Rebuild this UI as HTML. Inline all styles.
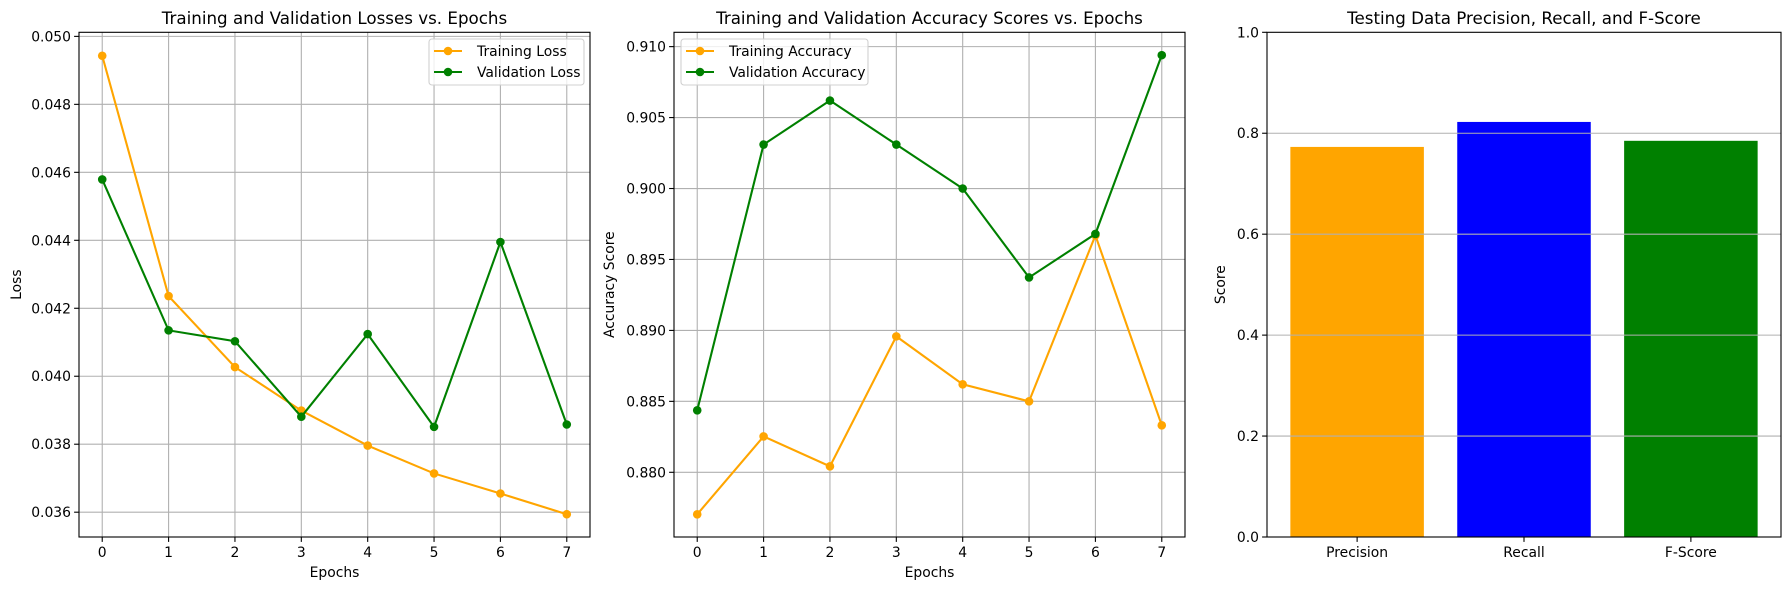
<!DOCTYPE html>
<html><head><meta charset="utf-8"><style>
html,body{margin:0;padding:0;background:#fff;}
svg{display:block;font-family:"DejaVu Sans","Liberation Sans",sans-serif;}
</style></head><body>
<svg id="fig" width="1789" height="590" viewBox="0 0 1789 590" xmlns="http://www.w3.org/2000/svg"></svg>
<script>
const epochs = [0,1,2,3,4,5,6,7];
const trainLoss = [0.04943,0.04236,0.04027,0.03899,0.03796,0.03714,0.03655,0.03594];
const valLoss = [0.04579,0.04135,0.04103,0.03881,0.04124,0.03851,0.04395,0.03858];
const lossTicks = [0.036,0.038,0.040,0.042,0.044,0.046,0.048,0.050];
const trainAcc = [0.87704,0.88253,0.88042,0.88958,0.88620,0.88500,0.89670,0.88331];
const valAcc = [0.88437,0.90310,0.90620,0.90310,0.90000,0.89373,0.89680,0.90940];
const accTicks = [0.880,0.885,0.890,0.895,0.900,0.905,0.910];
const metricNames = ["Precision","Recall","F-Score"];
const metricValues = [0.7729,0.8224,0.7850];
const scoreTicks = [0.0,0.2,0.4,0.6,0.8,1.0];

const NS="http://www.w3.org/2000/svg";
const svg=document.getElementById('fig');
function mk(tag,attrs,parent){const e=document.createElementNS(NS,tag);for(const k in attrs)e.setAttribute(k,attrs[k]);(parent||svg).appendChild(e);return e;}
function txt(s,attrs,parent){const e=mk('text',attrs,parent);e.textContent=s;return e;}
const TOP=32.3,BOT=537;

function linePanel(name,L,R,xmin,xmax,ymin,ymax,yTicks,fmt,series,title,ylabel,ylabX,legendBox){
  const g=mk('g',{});
  
  
  const sx=v=>L+(v-xmin)/(xmax-xmin)*(R-L);
  const sy=v=>BOT-(v-ymin)/(ymax-ymin)*(BOT-TOP);
  const grid=mk('g',{},g);
  
  
  epochs.forEach(e=>{mk('line',{x1:sx(e),x2:sx(e),y1:TOP,y2:BOT,stroke:'#b0b0b0','stroke-width':1.1},grid);});
  yTicks.forEach(t=>{mk('line',{x1:L,x2:R,y1:sy(t),y2:sy(t),stroke:'#b0b0b0','stroke-width':1.1},grid);});
  series.forEach(s=>{
    const sg=mk('g',{},g);
    
    
    const pts=s.vals.map((v,i)=>sx(epochs[i])+','+sy(v)).join(' ');
    mk('polyline',{points:pts,fill:'none',stroke:s.color,'stroke-width':2.1},sg);
    s.vals.forEach((v,i)=>{
      const c=mk('circle',{cx:sx(epochs[i]),cy:sy(v),r:4.3,fill:s.color},sg);
      
      
    });
  });
  mk('rect',{x:L,y:TOP,width:R-L,height:BOT-TOP,fill:'none',stroke:'#000','stroke-width':1.1},g);
  epochs.forEach(e=>{
    mk('line',{x1:sx(e),x2:sx(e),y1:BOT,y2:BOT+4.9,stroke:'#000','stroke-width':1.1},g);
    const t=txt(String(e),{x:sx(e),y:BOT+20,'font-size':13.9,'text-anchor':'middle',fill:'#000'},g);
    
    
  });
  yTicks.forEach(v=>{
    mk('line',{x1:L-4.9,x2:L,y1:sy(v),y2:sy(v),stroke:'#000','stroke-width':1.1},g);
    const t=txt(fmt(v),{x:L-8,y:sy(v)+5,'font-size':13.9,'text-anchor':'end',fill:'#000'},g);
    
    
  });
  const tt=txt(title,{x:(L+R)/2,y:24,'font-size':16.7,'text-anchor':'middle',fill:'#000'},g);
  
  
  const xl=txt('Epochs',{x:(L+R)/2,y:577,'font-size':13.9,'text-anchor':'middle',fill:'#000'},g);
  
  
  const yl=txt(ylabel,{x:ylabX,y:(TOP+BOT)/2,'font-size':13.9,'text-anchor':'middle',fill:'#000',transform:'rotate(-90 '+ylabX+' '+(TOP+BOT)/2+')'},g);
  
  
  const lg=mk('g',{},g);
  
  
  mk('rect',{x:legendBox[0],y:39,width:legendBox[1],height:46,rx:3,fill:'#fff','fill-opacity':0.8,stroke:'#d0d0d0','stroke-width':1.1},lg);
  series.forEach((s,i)=>{
    const yy=51+i*21;
    const x0=legendBox[0]+5;
    mk('line',{x1:x0,x2:x0+28,y1:yy,y2:yy,stroke:s.color,'stroke-width':2.1},lg);
    mk('circle',{cx:x0+14,cy:yy,r:4.3,fill:s.color},lg);
    const t=txt(s.label,{x:x0+43,y:yy+5,'font-size':13.9,fill:'#000'},lg);
    
    
  });
}

linePanel('loss-chart',79,590,-0.35,7.35,0.03527,0.05012,lossTicks,v=>v.toFixed(3),
  [{id:'training-loss-line',label:'Training Loss',color:'#FFA500',vals:trainLoss},
   {id:'validation-loss-line',label:'Validation Loss',color:'#008000',vals:valLoss}],
  'Training and Validation Losses vs. Epochs','Loss',21,[429,155]);

linePanel('accuracy-chart',674,1185,-0.35,7.35,0.87544,0.91101,accTicks,v=>v.toFixed(3),
  [{id:'training-accuracy-line',label:'Training Accuracy',color:'#FFA500',vals:trainAcc},
   {id:'validation-accuracy-line',label:'Validation Accuracy',color:'#008000',vals:valAcc}],
  'Training and Validation Accuracy Scores vs. Epochs','Accuracy Score',614,[681,187]);

(function(){
  const L=1267,R=1781,ymin=0,ymax=1;
  const g=mk('g',{});
  
  
  const n=metricNames.length;
  const sx=i=>L+(i+0.54)/(n+0.08)*(R-L);
  const bw=0.8/(n+0.08)*(R-L);
  const sy=v=>BOT-(v-ymin)/(ymax-ymin)*(BOT-TOP);
  const colors=['#FFA500','#0000FF','#008000'];
  metricValues.forEach((v,i)=>{
    const b=mk('rect',{x:sx(i)-bw/2,y:sy(v),width:bw,height:BOT-sy(v),fill:colors[i]},g);
    
    
  });
  scoreTicks.forEach(t=>{
    if(t>0&&t<1) mk('line',{x1:L,x2:R,y1:sy(t),y2:sy(t),stroke:'#b0b0b0','stroke-width':1.1},g);
    mk('line',{x1:L-4.9,x2:L,y1:sy(t),y2:sy(t),stroke:'#000','stroke-width':1.1},g);
    const tl=txt(t.toFixed(1),{x:L-8,y:sy(t)+5,'font-size':13.9,'text-anchor':'end',fill:'#000'},g);
    
    
  });
  mk('rect',{x:L,y:TOP,width:R-L,height:BOT-TOP,fill:'none',stroke:'#000','stroke-width':1.1},g);
  metricNames.forEach((m,i)=>{
    mk('line',{x1:sx(i),x2:sx(i),y1:BOT,y2:BOT+4.9,stroke:'#000','stroke-width':1.1},g);
    const tl=txt(m,{x:sx(i),y:BOT+20,'font-size':13.9,'text-anchor':'middle',fill:'#000'},g);
    
    
  });
  const tt=txt('Testing Data Precision, Recall, and F-Score',{x:(L+R)/2,y:24,'font-size':16.7,'text-anchor':'middle',fill:'#000'},g);
  
  
  const yx=1225;
  const yl=txt('Score',{x:yx,y:(TOP+BOT)/2,'font-size':13.9,'text-anchor':'middle',fill:'#000',transform:'rotate(-90 '+yx+' '+(TOP+BOT)/2+')'},g);
  
  
})();
</script>
</body></html>
